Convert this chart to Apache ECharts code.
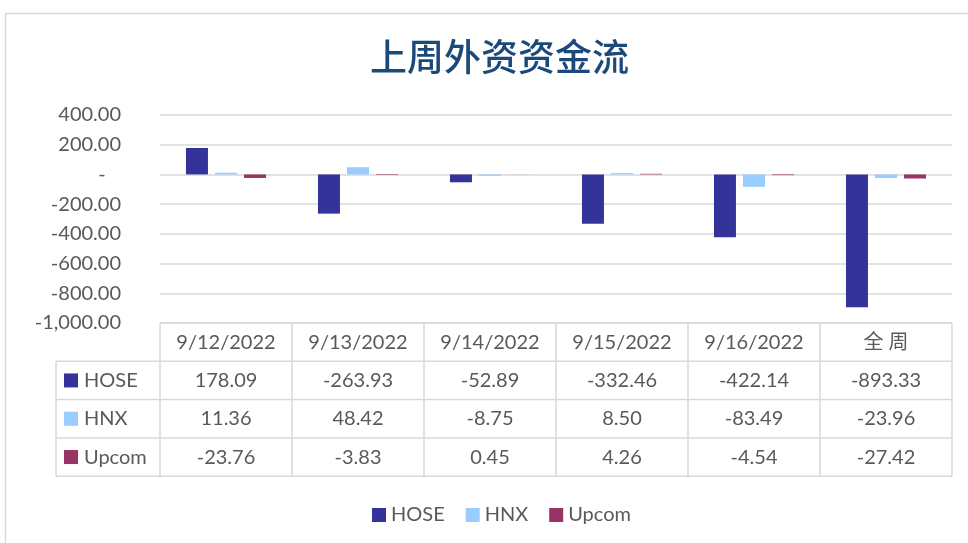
<!DOCTYPE html>
<html>
<head>
<meta charset="utf-8">
<script src="https://cdn.jsdelivr.net/npm/echarts/dist/echarts.min.js"></script>
<style>
  html, body { margin: 0; padding: 0; background: #fff; }
  #chart { width: 968px; height: 543px; }
</style>
</head>
<body>
<div id="chart"></div>
<script>
// data
var categories = ['9/12/2022', '9/13/2022', '9/14/2022', '9/15/2022', '9/16/2022', '全 周'];
var seriesNames = ['HOSE', 'HNX', 'Upcom'];
var hose = [178.09, -263.93, -52.89, -332.46, -422.14, -893.33];
var hnx = [11.36, 48.42, -8.75, 8.50, -83.49, -23.96];
var upcom = [-23.76, -3.83, 0.45, 4.26, -4.54, -27.42];
var colors = ['#333399', '#99ccff', '#993366'];
var yMin = -1000, yMax = 400, yStep = 200;

var seriesData = [hose, hnx, upcom];
var textColor = '#595959';
var lineColor = '#d9d9d9';
var font = 'Lato, "Noto Sans CJK SC", sans-serif';

// layout
var plotLeft = 160, plotRight = 952, plotTop = 115, tableTop = 323;
var rowH = 38.3, headLeft = 56;
var colW = (plotRight - plotLeft) / categories.length;

function fmtAxis(v) {
  if (v === 0) return '-   ';
  return v.toLocaleString('en-US', { minimumFractionDigits: 2, maximumFractionDigits: 2 });
}

var chart = echarts.init(document.getElementById('chart'));

// data table drawn below the plot
var graphics = [];
graphics.push({
  type: 'rect', silent: true,
  shape: { x: 5.5, y: 13.5, width: 1000, height: 600 },
  style: { fill: 'none', stroke: lineColor, lineWidth: 1.5 }
});
var tableBottom = tableTop + rowH * (seriesNames.length + 1);
// horizontal lines
graphics.push({ type: 'line', silent: true, shape: { x1: plotLeft, y1: tableTop, x2: plotRight, y2: tableTop },
  style: { stroke: lineColor, lineWidth: 1.5 } });
for (var r = 1; r <= seriesNames.length + 1; r++) {
  var yy = tableTop + rowH * r;
  graphics.push({ type: 'line', silent: true, shape: { x1: headLeft, y1: yy, x2: plotRight, y2: yy },
    style: { stroke: lineColor, lineWidth: 1.5 } });
}
// vertical lines
for (var c = 0; c <= categories.length; c++) {
  var xx = plotLeft + colW * c;
  graphics.push({ type: 'line', silent: true, shape: { x1: xx, y1: tableTop, x2: xx, y2: tableBottom },
    style: { stroke: lineColor, lineWidth: 1.5 } });
}
graphics.push({ type: 'line', silent: true, shape: { x1: headLeft, y1: tableTop + rowH, x2: headLeft, y2: tableBottom },
  style: { stroke: lineColor, lineWidth: 1.5 } });

seriesNames.forEach(function (name, i) {
  var cy = tableTop + rowH * (i + 1) + rowH / 2;
  graphics.push({ type: 'rect', silent: true, shape: { x: 64, y: cy - 7, width: 14, height: 14 },
    style: { fill: colors[i] } });
  graphics.push({ type: 'text', silent: true,
    style: { text: name, x: 84, y: cy, textAlign: 'left', textVerticalAlign: 'middle',
      font: '20px ' + font, fill: textColor } });
  seriesData[i].forEach(function (v, j) {
    graphics.push({ type: 'text', silent: true,
      style: { text: v.toFixed(2), x: plotLeft + colW * j + colW / 2, y: cy,
        textAlign: 'center', textVerticalAlign: 'middle', font: '20px ' + font, fill: textColor } });
  });
});

var option = {
  animation: false,
  title: {
    text: '上周外资资金流',
    left: 365,
    top: 33,
    textStyle: { fontFamily: '"Noto Sans CJK SC", serif', fontSize: 37, fontWeight: 500, color: '#1b4a7a' }
  },
  grid: { left: plotLeft, right: 968 - plotRight, top: plotTop, bottom: 543 - tableTop },
  legend: {
    data: seriesNames,
    left: 367,
    top: 500,
    icon: 'rect',
    itemWidth: 14,
    itemHeight: 14,
    itemGap: 21,
    textStyle: { fontSize: 20, color: textColor, fontFamily: font }
  },
  xAxis: {
    type: 'category',
    data: categories,
    axisLine: { show: false },
    axisTick: { show: false },
    axisLabel: { margin: 10, fontSize: 20, color: textColor, fontFamily: font }
  },
  yAxis: {
    type: 'value',
    min: yMin,
    max: yMax,
    interval: yStep,
    axisLine: { show: false },
    axisTick: { show: false },
    axisLabel: { margin: 39, fontSize: 20, color: textColor, fontFamily: font, formatter: fmtAxis },
    splitLine: { lineStyle: { color: lineColor, width: 1.5 } }
  },
  series: seriesNames.map(function (name, i) {
    return {
      name: name,
      type: 'bar',
      data: seriesData[i],
      barWidth: 22,
      barGap: '32%',
      itemStyle: { color: colors[i] }
    };
  }),
  graphic: graphics
};
chart.setOption(option);
</script>
</body>
</html>
